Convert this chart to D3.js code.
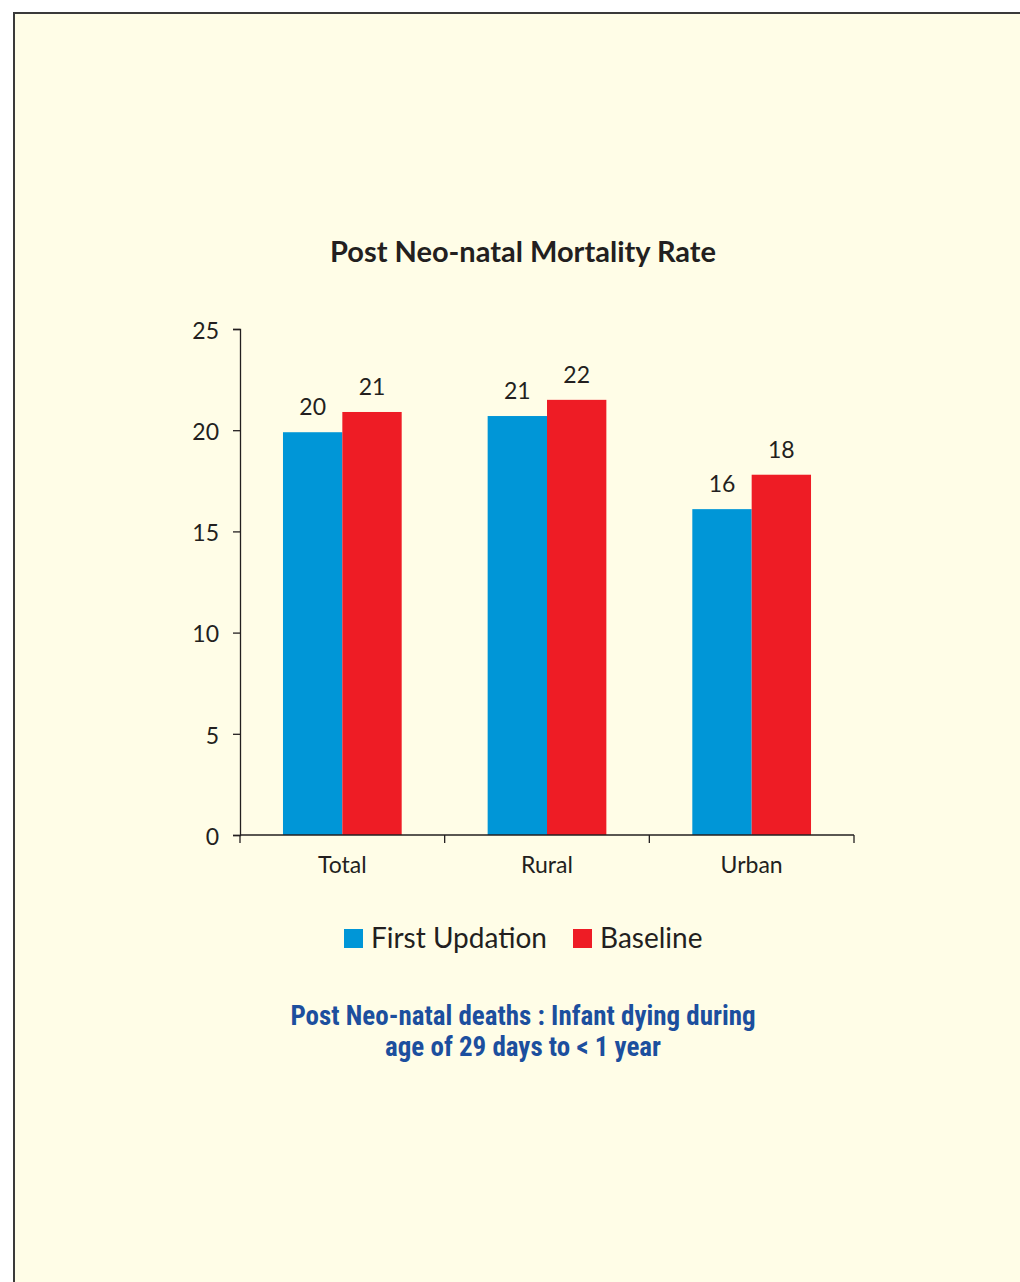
<!DOCTYPE html>
<html>
<head>
<meta charset="utf-8">
<script src="https://cdn.jsdelivr.net/npm/d3@7"></script>
<style>
  html, body { margin: 0; padding: 0; background: #ffffff; }
  svg { display: block; }
</style>
</head>
<body>
<div id="chart"></div>
<script>
const categories = ["Total", "Rural", "Urban"];
const series_names = ["First Updation", "Baseline"];
const first_updation = [19.9, 20.7, 16.1];
const baseline = [20.9, 21.5, 17.8];
const value_labels = [["20", "21"], ["21", "22"], ["16", "18"]];
const y_ticks = [0, 5, 10, 15, 20, 25];
const colors = ["#0096d7", "#ee1c25"];

const W = 1020, H = 1282;
const margin = {top: 329, left: 240, right: 166, bottom: 447};
const width = W - margin.left - margin.right,
      height = H - margin.top - margin.bottom;

const svg = d3.select("#chart").append("svg")
    .attr("width", W)
    .attr("height", H);

// page panel
svg.append("rect")
    .attr("x", 14).attr("y", 13)
    .attr("width", W + 10).attr("height", H + 10)
    .attr("fill", "#fffde7")
    .attr("stroke", "#3a3a3a")
    .attr("stroke-width", 2);

const text_color = "#231f20";
const base_font = "Lato, 'Open Sans', 'DejaVu Sans', sans-serif";

svg.append("text")
    .attr("x", 523).attr("y", 262)
    .attr("text-anchor", "middle")
    .style("font-family", base_font)
    .style("font-size", "29px")
    .style("font-weight", "bold")
    .attr("fill", text_color)
    .text("Post Neo-natal Mortality Rate");

const g = svg.append("g")
    .attr("transform", `translate(${margin.left}, ${margin.top})`);

const x0 = d3.scaleBand()
    .domain(categories)
    .range([0, width])
    .paddingInner(0.42)
    .paddingOuter(0.21);

const x1 = d3.scaleBand()
    .domain(series_names)
    .range([0, x0.bandwidth()]);

const y = d3.scaleLinear()
    .domain([0, 25])
    .range([height, 0]);

const rows = categories.map((c, i) => ({
    category: c,
    values: [
        {series: series_names[0], value: first_updation[i], label: value_labels[i][0]},
        {series: series_names[1], value: baseline[i], label: value_labels[i][1]}
    ]
}));

const groups = g.selectAll("g.cat")
    .data(rows)
    .join("g")
    .attr("class", "cat")
    .attr("transform", d => `translate(${x0(d.category)}, 0)`);

groups.selectAll("rect")
    .data(d => d.values)
    .join("rect")
    .attr("x", d => x1(d.series))
    .attr("y", d => y(d.value))
    .attr("width", x1.bandwidth())
    .attr("height", d => height - y(d.value))
    .attr("fill", (d, i) => colors[i]);

groups.selectAll("text")
    .data(d => d.values)
    .join("text")
    .attr("x", d => x1(d.series) + x1.bandwidth() / 2)
    .attr("y", d => y(d.value) - 17)
    .attr("text-anchor", "middle")
    .style("font-family", base_font)
    .style("font-size", "23px")
    .attr("fill", text_color)
    .text(d => d.label);

// y axis
const yAxis = g.append("g")
    .call(d3.axisLeft(y).tickValues(y_ticks).tickSize(7).tickPadding(14));
yAxis.select(".domain").attr("stroke", text_color).attr("stroke-width", 1.3);
yAxis.selectAll(".tick line").attr("stroke", text_color).attr("stroke-width", 1.3);
yAxis.selectAll("text")
    .style("font-family", base_font)
    .style("font-size", "23px")
    .attr("fill", text_color)
    .attr("dy", "0.4em");

// x axis: ticks sit at band edges
const xAxis = g.append("g")
    .attr("transform", `translate(0, ${height})`);
const edges = [0].concat(categories.map(c => x0(c) + x0.bandwidth() + x0.step() * 0.21));
xAxis.append("line")
    .attr("x1", 0).attr("x2", width)
    .attr("stroke", text_color).attr("stroke-width", 1.3);
xAxis.selectAll("line.tk")
    .data(edges)
    .join("line")
    .attr("class", "tk")
    .attr("x1", d => d).attr("x2", d => d)
    .attr("y1", 0).attr("y2", 8)
    .attr("stroke", text_color).attr("stroke-width", 1.3);
xAxis.selectAll("text")
    .data(categories)
    .join("text")
    .attr("x", d => x0(d) + x0.bandwidth() / 2)
    .attr("y", 38)
    .attr("text-anchor", "middle")
    .style("font-family", base_font)
    .style("font-size", "23px")
    .attr("fill", text_color)
    .text(d => d);

// legend
const legend_x = [344, 573];
const legend = svg.append("g");
series_names.forEach((name, i) => {
    legend.append("rect")
        .attr("x", legend_x[i]).attr("y", 929)
        .attr("width", 19).attr("height", 19)
        .attr("fill", colors[i]);
    legend.append("text")
        .attr("x", legend_x[i] + 27).attr("y", 948)
        .style("font-family", base_font)
        .style("font-size", "28px")
        .attr("fill", text_color)
        .text(name);
});

// footnote
const note_lines = ["Post Neo-natal deaths : Infant dying during", "age of 29 days to < 1 year"];
svg.append("g").selectAll("text")
    .data(note_lines)
    .join("text")
    .attr("x", 523)
    .attr("y", (d, i) => 1025 + i * 31)
    .attr("text-anchor", "middle")
    .style("font-family", "'Liberation Sans Narrow', 'Roboto Condensed', 'Liberation Sans', sans-serif")
    .style("font-size", "27px")
    .style("font-weight", "bold")
    .attr("fill", "#1c4f9e")
    .text(d => d);
</script>
</body>
</html>
